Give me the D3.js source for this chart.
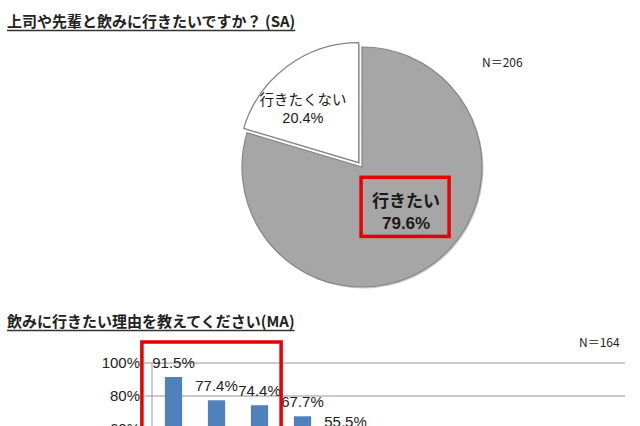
<!DOCTYPE html>
<html>
<head>
<meta charset="utf-8">
<script src="https://cdn.jsdelivr.net/npm/d3@7"></script>
<style>
  body { margin: 0; background: #fff; }
  svg { display: block; }
</style>
</head>
<body>
<svg id="chart" width="640" height="426"></svg>
<script>
// pie: 上司や先輩と飲みに行きたいですか？
const pieLabels = ["行きたい", "行きたくない"];
const pieValues = [79.6, 20.4];
const pieN = "N＝206";

// bars: 飲みに行きたい理由 (only the first five are visible in the crop)
const barCount = 11;
const barValues = [91.5, 77.4, 74.4, 67.7, 55.5];
const yTicks = [100, 80, 60];
const barN = "N＝164";

const title1 = "上司や先輩と飲みに行きたいですか？ (SA)";
const title2 = "飲みに行きたい理由を教えてください(MA)";

const svg = d3.select("#chart");
const jp = "'Noto Sans CJK JP', sans-serif";
const latin = "Arial, 'Liberation Sans', sans-serif";

// titles with underline
function title(txt, y) {
    const t = svg.append("text")
        .attr("x", 7).attr("y", y)
        .style("font-family", jp)
        .style("font-weight", 700)
        .style("font-size", "15px")
        .style("fill", "#222")
        .text(txt);
    const w = t.node().getComputedTextLength();
    svg.append("line")
        .attr("x1", 7).attr("x2", 7 + w)
        .attr("y1", y + 3.5).attr("y2", y + 3.5)
        .attr("stroke", "#333").attr("stroke-width", 1.3);
}
title(title1, 27);
title(title2, 327);

// ---- pie ----
const cx = 362, cy = 167, r = 120;
const pie = d3.pie().value(d => d).sort(null);
const arc = d3.arc().innerRadius(0).outerRadius(r);
const slices = pie(pieValues);
const pieFill = ["#a6a6a6", "#ffffff"];
const explode = [0, 5.5];

const g = svg.append("g").attr("transform", `translate(${cx},${cy})`);

const mid = d => (d.startAngle + d.endAngle) / 2;
const sg = g.selectAll("g.slice").data(slices).enter()
    .append("g")
    .attr("class", "slice")
    .attr("transform", (d, i) => `translate(${Math.sin(mid(d)) * explode[i]},${-Math.cos(mid(d)) * explode[i]})`);

// soft shadow
sg.append("path")
    .attr("d", arc)
    .attr("transform", "translate(1.5,1.5)")
    .attr("fill", "#cfcfcf");

sg.append("path")
    .attr("d", arc)
    .attr("fill", (d, i) => pieFill[i])
    .attr("stroke", "#858585")
    .attr("stroke-width", 1.2);

const labelR = [62, 80];
const labelShift = [[7, -6], [-8, 9]];
const labelSize = [17, 14.5];
const labelWeight = [700, 400];

sg.each(function (d, i) {
    const a = mid(d);
    const lx = Math.sin(a) * labelR[i] + labelShift[i][0];
    const ly = -Math.cos(a) * labelR[i] + labelShift[i][1];
    const t = d3.select(this).append("text")
        .attr("transform", `translate(${lx},${ly})`)
        .attr("text-anchor", "middle")
        .style("font-size", labelSize[i] + "px")
        .style("font-weight", labelWeight[i])
        .style("fill", "#1a1a1a");
    t.append("tspan").attr("x", 0).attr("dy", "-0.2em")
        .style("font-family", jp)
        .text(pieLabels[i]);
    t.append("tspan").attr("x", 0).attr("dy", "1.3em")
        .style("font-family", latin)
        .text(d3.format(".1f")(pieValues[i]) + "%");
    if (i === 0) {
        const bb = t.node().getBBox();
        d3.select(this).insert("rect", "text")
            .attr("x", lx - 45).attr("y", ly + bb.y - 10)
            .attr("width", 88).attr("height", bb.height + 13)
            .attr("fill", "none")
            .attr("stroke", "#e60000")
            .attr("stroke-width", 3.5);
    }
});

svg.append("text")
    .attr("x", 482).attr("y", 67)
    .style("font-family", jp)
    .style("font-size", "12px")
    .style("fill", "#222")
    .text(pieN);

// ---- bars ----
const x = d3.scaleBand()
    .domain(d3.range(barCount))
    .range([152, 625])
    .paddingInner(0.6)
    .paddingOuter(0.3);
const y = d3.scaleLinear().domain([0, 100]).range([528, 363]);

const grid = svg.append("g");
grid.selectAll("line").data(yTicks).enter().append("line")
    .attr("x1", 144).attr("x2", 625)
    .attr("y1", d => y(d)).attr("y2", d => y(d))
    .attr("stroke", "#969696").attr("stroke-width", 1);

svg.append("line")
    .attr("x1", 152).attr("x2", 152)
    .attr("y1", y(100)).attr("y2", y(0))
    .attr("stroke", "#969696").attr("stroke-width", 1);

svg.append("g").selectAll("text").data(yTicks).enter().append("text")
    .attr("x", 140).attr("y", d => y(d))
    .attr("dy", "0.35em")
    .attr("text-anchor", "end")
    .style("font-family", latin)
    .style("font-size", "15px")
    .style("fill", "#222")
    .text(d => d + "%");

svg.append("g").selectAll("rect").data(barValues).enter().append("rect")
    .attr("x", (d, i) => x(i))
    .attr("y", d => y(d))
    .attr("width", x.bandwidth())
    .attr("height", d => y(0) - y(d))
    .attr("fill", "#4f81bd");

svg.append("g").selectAll("text").data(barValues).enter().append("text")
    .attr("x", (d, i) => x(i) + x.bandwidth() / 2)
    .attr("y", d => y(d) - 9)
    .attr("text-anchor", "middle")
    .style("font-family", latin)
    .style("font-size", "15px")
    .style("fill", "#222")
    .text(d => d3.format(".1f")(d) + "%");

// highlight box around the top three
svg.append("rect")
    .attr("x", x(0) - 23)
    .attr("y", y(100) - 21)
    .attr("width", x(2) + x.bandwidth() + 13 - (x(0) - 23))
    .attr("height", 200)
    .attr("fill", "none")
    .attr("stroke", "#e60000")
    .attr("stroke-width", 3.5);

svg.append("text")
    .attr("x", 579).attr("y", 347)
    .style("font-family", jp)
    .style("font-size", "12px")
    .style("fill", "#222")
    .text(barN);
</script>
</body>
</html>
